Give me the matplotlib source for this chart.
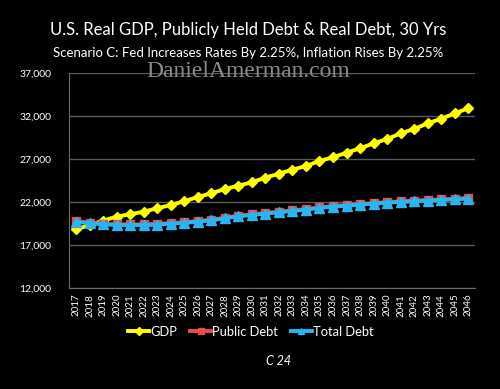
import matplotlib.pyplot as plt
import numpy as np

years = [str(y) for y in range(2017, 2047)]

gdp = [18840, 19340, 19840, 20310, 20580, 20890, 21270, 21660, 22090, 22590,
       23010, 23510, 23900, 24290, 24830, 25290, 25760, 26180, 26760, 27190,
       27730, 28230, 28810, 29310, 29970, 30470, 31130, 31670, 32290, 32870]

total_debt = [19730, 19530, 19420, 19340, 19340, 19340, 19380, 19500, 19570, 19730,
              19880, 20110, 20350, 20500, 20660, 20810, 20960, 21120, 21310, 21470,
              21580, 21700, 21810, 21930, 22010, 22090, 22160, 22240, 22320, 22390]

public_debt = [19800, 19600, 19490, 19410, 19410, 19410, 19450, 19570, 19640, 19800,
               19950, 20180, 20420, 20570, 20730, 20880, 21030, 21190, 21380, 21540,
               21650, 21770, 21880, 22000, 22080, 22160, 22230, 22310, 22390, 22460]

yticks = [12000, 17000, 22000, 27000, 32000, 37000]

plt.rcParams['font.family'] = ['Lato', 'DejaVu Sans']

fig = plt.figure(figsize=(5, 3.89), dpi=100, facecolor='black')
ax = fig.add_axes([0.1386, 0.259, 0.8114, 0.554], facecolor='black')

x = np.arange(len(years))
ax.plot(x, gdp, color='#ffff00', marker='D', markersize=5.5, linewidth=2.8,
        label='GDP', zorder=3)
ax.plot(x, public_debt, color='#e05050', marker='s', markersize=5.5, linewidth=2.8,
        label='Public Debt', zorder=4)
ax.plot(x, total_debt, color='#29b6f0', marker='^', markersize=6.5, linewidth=2.8,
        label='Total Debt', zorder=5)

ax.set_xlim(-0.5, len(years) - 0.5)
ax.set_ylim(12000, 37000)
ax.set_yticks(yticks)
ax.set_yticklabels([f'{v:,}' for v in yticks], color='white', fontsize=7.5)
ax.set_xticks(x)
ax.set_xticklabels(years, rotation=90, color='white', fontsize=7)
ax.tick_params(length=0, pad=4)
ax.yaxis.set_tick_params(pad=13)
ax.grid(axis='y', color='#5a5a5a', linewidth=1)
ax.set_axisbelow(True)
for s in ['top', 'right']:
    ax.spines[s].set_visible(False)
for s in ['left', 'bottom']:
    ax.spines[s].set_color('#6a6a6a')

fig.text(0.496, 0.922, 'U.S. Real GDP, Publicly Held Debt & Real Debt, 30 Yrs',
         ha='center', va='center', color='white', fontsize=12)
fig.text(0.496, 0.863, 'Scenario C: Fed Increases Rates By 2.25%, Inflation Rises By 2.25%',
         ha='center', va='center', color='white', fontsize=9.5)
fig.text(0.496, 0.815, 'DanielAmerman.com', ha='center', va='center',
         color='#8a8a8a', fontsize=17, family='Liberation Serif')

leg = fig.legend(loc='center', bbox_to_anchor=(0.502, 0.147), ncol=3, frameon=False,
                 fontsize=9.3, handlelength=1.6, handletextpad=0.1, columnspacing=1.0,
                 labelcolor='white', markerscale=0.7)

fig.text(0.558, 0.072, 'C 24', ha='center', va='center', color='white',
         fontsize=9, style='italic')

plt.savefig('out.png', dpi=100, facecolor='black')
